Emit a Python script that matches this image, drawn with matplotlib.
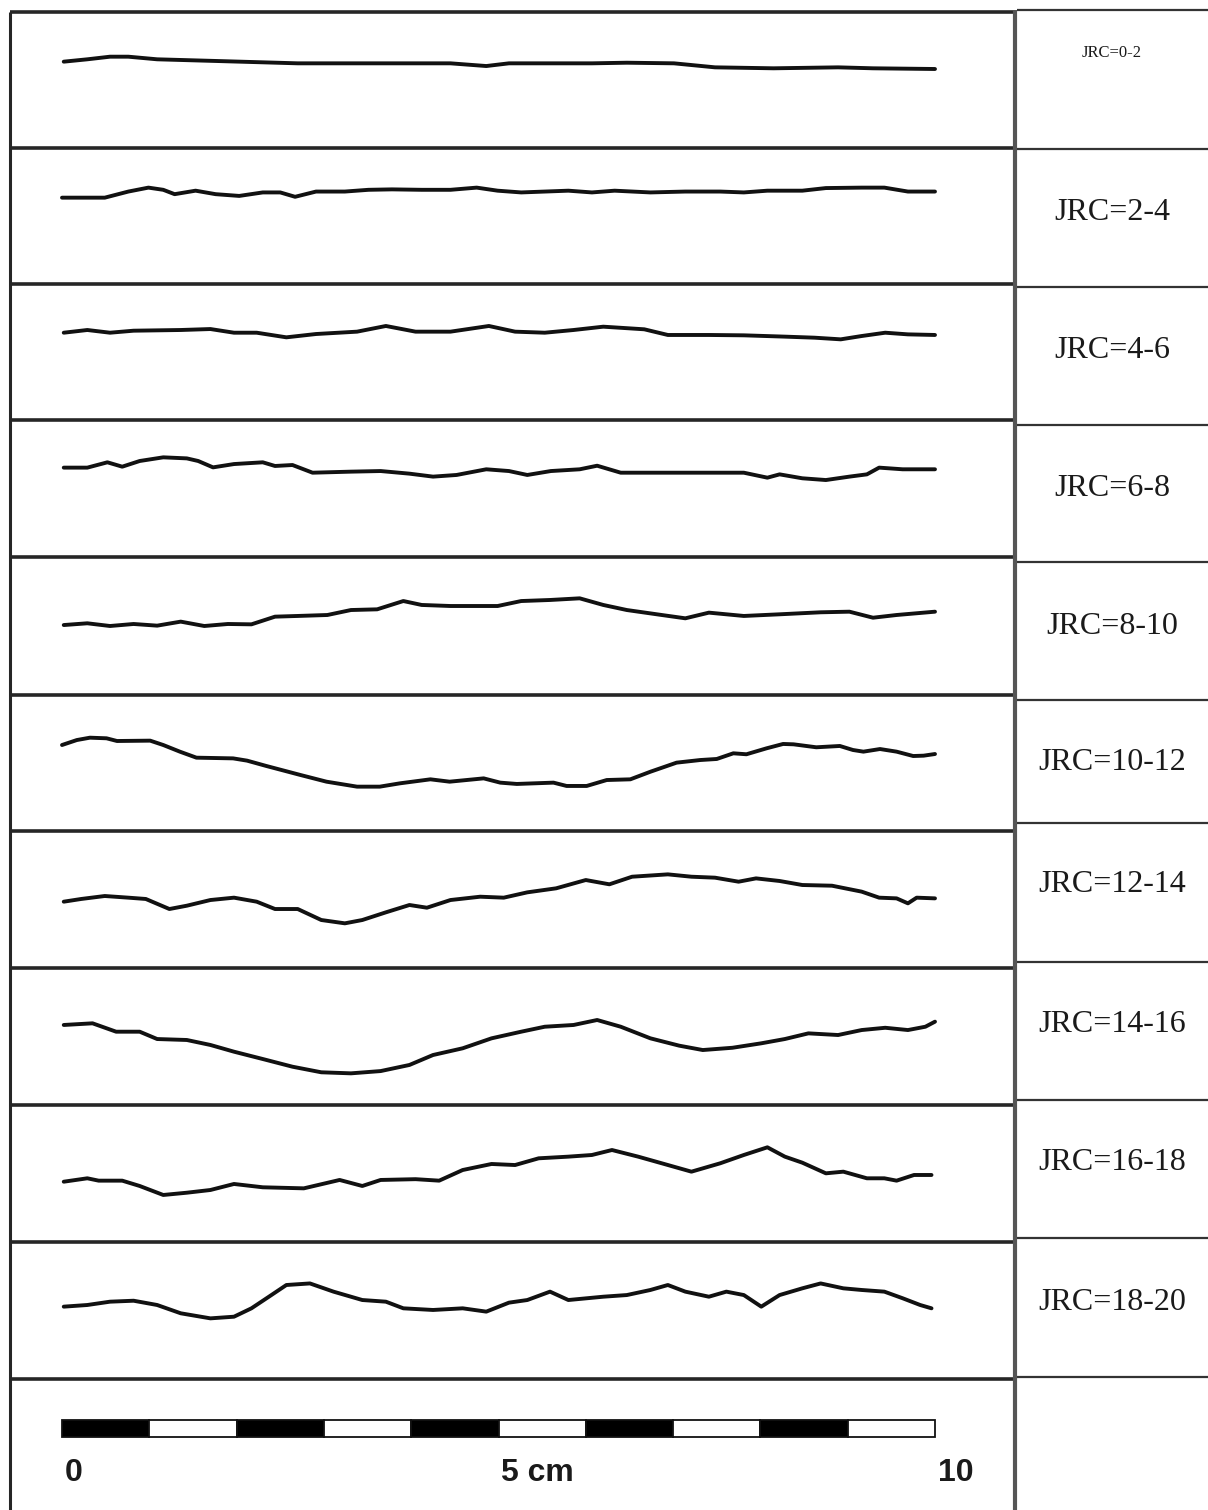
#JRC roughness profiles (Barton & Choubey), 10 standard profiles
#profile heights, x and h in mm

import numpy as np
import matplotlib.pyplot as plt

labels = ["JRC=0-2", "JRC=2-4", "JRC=4-6", "JRC=6-8", "JRC=8-10",
          "JRC=10-12", "JRC=12-14", "JRC=14-16", "JRC=16-18", "JRC=18-20"]

jrc_0_2_x = [0.2, 2.9, 5.5, 7.6, 10.9, 17.6, 27.0, 35.1, 44.5, 48.6, 51.2, 60.7, 64.7, 70.1, 74.8, 81.5, 88.9, 92.9, 100]
jrc_0_2_h = [2.1, 2.37, 2.67, 2.67, 2.37, 2.18, 1.91, 1.91, 1.91, 1.6, 1.91, 1.91, 1.98, 1.91, 1.45, 1.34, 1.45, 1.34, 1.26]

jrc_2_4_x = [0, 4.9, 7.6, 9.9, 11.6, 12.9, 15.3, 17.6, 20.3, 23.0, 25.0, 26.7, 29.1, 32.4, 35.1, 37.8, 41.2, 44.5,
             47.5, 49.9, 52.6, 55.3, 58.0, 60.7, 63.3, 67.4, 71.4, 75.4, 78.1, 80.8, 84.8, 87.5, 91.6, 94.2, 96.9, 100]
jrc_2_4_h = [2.1, 2.1, 2.8, 3.25, 3.0, 2.5, 2.9, 2.5, 2.3, 2.7, 2.7, 2.2, 2.8, 2.8, 3.0, 3.05, 3.0, 3.0,
             3.25, 2.9, 2.7, 2.8, 2.9, 2.7, 2.9, 2.7, 2.8, 2.8, 2.7, 2.9, 2.9, 3.2, 3.25, 3.25, 2.8, 2.8]

jrc_4_6_x = [0.2, 2.9, 5.5, 8.2, 13.6, 17.0, 19.7, 22.3, 25.7, 29.1, 33.8, 37.1, 40.5, 44.5, 48.9, 51.9, 55.3,
             58.6, 62.0, 66.7, 69.4, 74.1, 78.1, 82.8, 86.2, 89.2, 91.6, 94.3, 96.9, 100]
jrc_4_6_h = [2.21, 2.52, 2.21, 2.44, 2.52, 2.63, 2.21, 2.21, 1.68, 2.06, 2.33, 2.98, 2.33, 2.33, 2.98, 2.33, 2.21,
             2.52, 2.9, 2.6, 1.95, 1.95, 1.91, 1.76, 1.64, 1.45, 1.83, 2.21, 2.02, 1.95]

jrc_6_8_x = [0.2, 2.9, 5.2, 6.9, 8.9, 11.6, 14.3, 15.6, 17.3, 19.7, 23.0, 24.4, 26.4, 28.7, 33.1, 36.5, 39.8, 42.5,
             45.2, 48.6, 51.2, 53.3, 56.0, 59.3, 61.3, 64.0, 68.0, 72.7, 78.1, 80.8, 82.2, 84.8, 87.5, 90.2, 92.2,
             93.6, 96.3, 100]
jrc_6_8_h = [2.39, 2.39, 3.0, 2.5, 3.15, 3.57, 3.45, 3.15, 2.42, 2.8, 3.0, 2.58, 2.69, 1.81, 1.93, 2.0, 1.7, 1.36,
             1.55, 2.2, 2.0, 1.55, 2.0, 2.2, 2.61, 1.81, 1.81, 1.81, 1.81, 1.24, 1.62, 1.17, 0.97, 1.36, 1.62,
             2.39, 2.2, 2.2]

jrc_8_10_x = [0.2, 2.9, 5.5, 8.2, 10.9, 13.6, 16.3, 19.0, 21.7, 24.4, 27.0, 30.4, 33.1, 36.1, 39.1, 41.2, 44.5,
              49.9, 52.6, 55.9, 59.3, 62.0, 64.7, 68.7, 71.4, 74.1, 78.1, 82.2, 86.9, 90.2, 92.9, 95.6, 100]
jrc_8_10_h = [0.11, 0.31, 0.0, 0.23, 0.04, 0.5, 0.0, 0.23, 0.19, 1.07, 1.15, 1.26, 1.83, 1.91, 2.86, 2.41, 2.29,
              2.29, 2.86, 2.98, 3.17, 2.41, 1.83, 1.26, 0.88, 1.53, 1.15, 1.34, 1.57, 1.64, 0.95, 1.26, 1.64]

jrc_10_12_x = [0, 1.7, 3.2, 5.1, 6.3, 10.1, 11.6, 13.5, 15.4, 19.6, 21.2, 23.4, 27.3, 30.3, 33.8, 36.4, 38.7,
               42.2, 44.4, 48.3, 50.2, 52.1, 56.3, 57.8, 60.1, 62.4, 65.1, 67.4, 70.4, 73.1, 75.0, 76.9, 78.4,
               80.7, 82.6, 83.8, 86.4, 89.1, 90.6, 91.8, 93.7, 95.6, 97.5, 98.7, 100]
jrc_10_12_h = [2.06, 2.63, 2.9, 2.83, 2.52, 2.56, 2.06, 1.3, 0.61, 0.53, 0.27, -0.34, -1.37, -2.14, -2.71, -2.71,
               -2.33, -1.87, -2.14, -1.76, -2.25, -2.4, -2.25, -2.63, -2.63, -1.95, -1.87, -1.0, 0.04, 0.34, 0.46,
               1.11, 1.0, 1.68, 2.18, 2.14, 1.8, 1.95, 1.49, 1.3, 1.6, 1.3, 0.8, 0.84, 1.03]

jrc_12_14_x = [0.2, 2.2, 4.9, 7.6, 9.6, 12.3, 14.3, 17.0, 19.7, 22.3, 24.4, 27.0, 29.7, 32.4, 34.4, 37.1, 39.8,
               41.8, 44.5, 47.9, 50.6, 53.3, 56.6, 60.0, 62.7, 65.3, 69.4, 72.1, 74.8, 77.5, 79.5, 82.2, 84.8,
               88.2, 91.6, 93.6, 95.6, 96.9, 97.9, 100]
jrc_12_14_h = [-0.25, 0.06, 0.4, 0.21, 0.06, -1.09, -0.71, -0.06, 0.21, -0.25, -1.09, -1.09, -2.35, -2.73, -2.35,
               -1.47, -0.63, -0.94, -0.06, 0.32, 0.21, 0.82, 1.28, 2.23, 1.74, 2.61, 2.88, 2.61, 2.5, 2.04, 2.42,
               2.12, 1.66, 1.58, 0.9, 0.21, 0.13, -0.44, 0.21, 0.13]

jrc_14_16_x = [0.2, 3.5, 6.2, 8.9, 10.9, 14.3, 17.0, 19.7, 23.0, 26.4, 29.7, 33.1, 36.5, 39.8, 42.5, 45.9, 49.2,
               52.6, 55.3, 58.6, 61.3, 64.0, 67.4, 70.7, 73.4, 76.8, 80.1, 82.8, 85.5, 88.9, 91.6, 94.3, 96.9,
               98.9, 100]
jrc_14_16_h = [1.32, 1.51, 0.55, 0.55, -0.29, -0.4, -0.97, -1.74, -2.58, -3.46, -4.1, -4.22, -3.96, -3.26, -2.12,
               -1.35, -0.21, 0.55, 1.12, 1.32, 1.89, 1.12, -0.21, -1.05, -1.55, -1.29, -0.78, -0.29, 0.36, 0.17,
               0.74, 1.0, 0.74, 1.12, 1.7]

jrc_16_18_x = [0.2, 2.9, 4.2, 6.9, 8.9, 11.6, 14.3, 17.0, 19.7, 23.0, 27.7, 31.8, 34.4, 36.5, 40.5, 43.2, 45.9,
               49.2, 51.9, 54.6, 58.0, 60.7, 63.0, 66.0, 68.7, 72.1, 75.4, 78.1, 80.8, 82.8, 84.8, 87.5, 89.5,
               92.2, 94.2, 95.6, 97.6, 99.6]
jrc_16_18_h = [-0.94, -0.55, -0.82, -0.82, -1.43, -2.46, -2.2, -1.89, -1.2, -1.58, -1.7, -0.74, -1.43, -0.74,
               -0.65, -0.82, 0.4, 1.09, 0.97, 1.74, 1.93, 2.12, 2.69, 1.93, 1.17, 0.21, 1.17, 2.12, 3.0, 1.93,
               1.24, 0.02, 0.21, -0.55, -0.55, -0.82, -0.17, -0.17]

jrc_18_20_x = [0.2, 2.9, 5.5, 8.2, 10.9, 13.6, 17.0, 19.7, 21.7, 23.7, 25.7, 28.4, 31.1, 34.4, 37.1, 39.1, 42.5,
               45.9, 48.6, 51.2, 53.3, 55.9, 58.0, 62.0, 64.7, 67.4, 69.4, 71.4, 74.1, 76.1, 78.1, 80.1, 82.2,
               84.8, 86.9, 89.5, 91.6, 94.2, 96.3, 98.3, 99.6]
jrc_18_20_h = [0.44, 0.63, 1.01, 1.12, 0.63, -0.32, -0.9, -0.71, 0.25, 1.58, 2.92, 3.1, 2.16, 1.2, 1.01, 0.25,
               0.06, 0.25, -0.13, 0.9, 1.2, 2.16, 1.2, 1.58, 1.77, 2.35, 2.92, 2.16, 1.58, 2.16, 1.77, 0.44, 1.77,
               2.54, 3.1, 2.54, 2.35, 2.16, 1.4, 0.63, 0.25]

profiles = [(jrc_0_2_x, jrc_0_2_h), (jrc_2_4_x, jrc_2_4_h), (jrc_4_6_x, jrc_4_6_h), (jrc_6_8_x, jrc_6_8_h),
            (jrc_8_10_x, jrc_8_10_h), (jrc_10_12_x, jrc_10_12_h), (jrc_12_14_x, jrc_12_14_h),
            (jrc_14_16_x, jrc_14_16_h), (jrc_16_18_x, jrc_16_18_h), (jrc_18_20_x, jrc_18_20_h)]

# scale bar: 10 segments of 1 cm, labels at 0, 5 and 10 cm
scale_seg = np.arange(0, 100, 10)
scale_labels = ["0", "5 cm", "10"]
scale_label_pos = [0, 50, 100]

# layout in pixels of the 1208x1510 sheet
W, H = 1208, 1510
X0 = 62          # pixel x of profile start
PX_MM = 8.73     # pixels per mm
L, R = 10, 1013  # left panel
row_edges = [12, 148, 284, 420, 557, 695, 831, 968, 1105, 1242, 1379, 1510]
lab_edges = [10, 149, 287, 425, 562, 700, 823, 962, 1100, 1238, 1377, 1510]
lab_y = [53, 213, 350, 489, 626, 762, 885, 1025, 1163, 1302]

fig = plt.figure(figsize=(W / 100, H / 100), dpi=100)

frame = fig.add_axes([0, 0, 1, 1])
frame.set_xlim(0, W)
frame.set_ylim(H, 0)
frame.axis('off')
frame.hlines(row_edges[:-1], L, R, color='#262626', lw=2.6)
frame.vlines(L, row_edges[0], H, color='#262626', lw=2.2)
frame.vlines(1015, lab_edges[0], H, color='#555555', lw=3.0)
frame.hlines(lab_edges[:-1], 1017, W, color='#333333', lw=1.6)

for t, y in zip(labels, lab_y):
    size = 12 if t == "JRC=0-2" else 23
    frame.text(1112, y, t, ha='center', va='center', fontsize=size,
               family='Liberation Serif', color='#1a1a1a')


def row_axes(top, bottom):
    ax = fig.add_axes([L / W, 1 - bottom / H, (R - L) / W, (bottom - top) / H])
    half = (bottom - top) / 2 / PX_MM
    ax.set_xlim((L - X0) / PX_MM, (R - X0) / PX_MM)
    ax.set_ylim(-half, half)
    ax.patch.set_alpha(0)
    ax.axis('off')
    return ax


for i, (px, ph) in enumerate(profiles):
    ax = row_axes(row_edges[i], row_edges[i + 1])
    ax.plot(px, ph, color='#111111', lw=2.8, solid_joinstyle='round', solid_capstyle='round')

# scale bar row
ax = row_axes(row_edges[10], row_edges[11])
cols = ['black' if k % 2 == 0 else 'white' for k in range(len(scale_seg))]
ax.bar(scale_seg, 1.95, width=10, bottom=0.86, align='edge', color=cols,
       edgecolor='#111111', lw=1.3)
for t, xp in zip(scale_labels, scale_label_pos):
    ax.text(xp + 0.3, -3.26, t, ha='left', va='center', fontsize=23, fontweight='bold',
            family='Liberation Sans', color='#1a1a1a')

fig.savefig('out.png', dpi=100)
